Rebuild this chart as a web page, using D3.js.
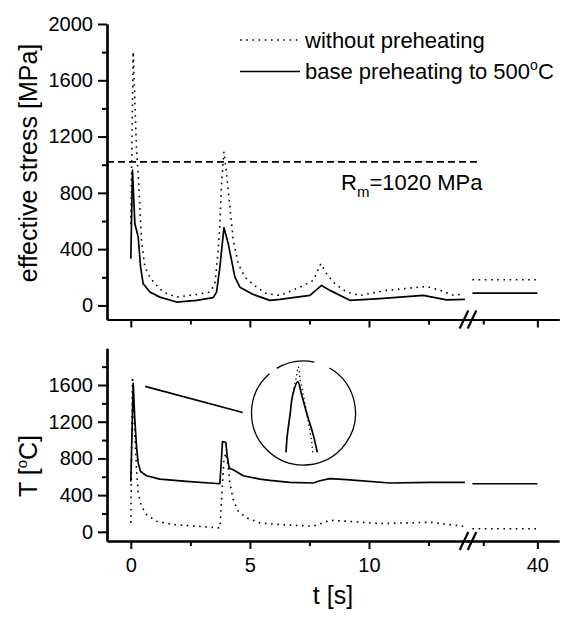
<!DOCTYPE html>
<html>
<head>
<script src="https://d3js.org/d3.v7.min.js"></script>
<style>
  body { margin: 0; background: #fff; }
  text { font-family: "Liberation Sans", Arial, sans-serif; fill: #000; }
</style>
</head>
<body>
<div id="viz"></div>
<script>
// ---- data ----
// effective stress, without preheating (dotted)
const tStressDot = [0, 0.1, 0.24, 0.31, 0.38, 0.45, 0.59, 0.8, 1.01, 1.36, 1.92, 2.76, 3.32, 3.53, 3.67, 3.74, 3.81, 3.91, 4.02, 4.16, 4.3, 4.51, 4.79, 5.28, 5.7, 6.26, 6.61, 7.1, 7.66, 7.98, 8.22, 8.57, 9.06, 9.62, 10.74, 12.42, 13.0, 13.56, 13.98];
const stressDot = [580, 1803, 1100, 937, 700, 463, 273, 201, 154, 95, 59, 78, 95, 154, 391, 581, 866, 1091, 937, 700, 463, 297, 201, 130, 83, 71, 95, 130, 178, 297, 225, 154, 95, 71, 107, 135, 107, 71, 83];
// effective stress, base preheating to 500 C (solid)
const tStressSolid = [0, 0.07, 0.17, 0.31, 0.41, 0.52, 0.8, 1.22, 1.92, 2.76, 3.46, 3.6, 3.74, 3.91, 4.09, 4.23, 4.37, 4.58, 5.14, 5.84, 6.26, 7.52, 8.01, 8.36, 9.2, 10.46, 12.28, 13.26, 14.03];
const stressSolid = [332, 961, 581, 486, 273, 154, 95, 59, 24, 36, 55, 95, 273, 553, 439, 320, 201, 130, 78, 36, 43, 71, 142, 107, 36, 48, 71, 40, 43];
// temperature, without preheating (dotted)
const tTempDot = [0, 0.07, 0.17, 0.24, 0.31, 0.45, 0.66, 1.08, 1.78, 2.76, 3.67, 3.74, 3.91, 3.99, 4.09, 4.16, 4.3, 4.51, 4.86, 5.42, 5.84, 6.26, 7.66, 8.36, 9.06, 10.46, 12.56, 13.96];
const tempDot = [97, 1690, 1038, 676, 423, 278, 188, 115, 79, 61, 43, 40, 785, 858, 712, 532, 351, 224, 152, 97, 87, 79, 61, 126, 115, 90, 104, 61];
// temperature, base preheating (solid)
const tTempSolid = [0, 0.1, 0.17, 0.24, 0.31, 0.41, 0.66, 1.22, 2.34, 3.74, 3.85, 3.99, 4.05, 4.13, 4.3, 4.72, 5.42, 5.84, 6.68, 7.66, 7.94, 8.36, 9.06, 10.88, 12.56, 14.03];
const tempSolid = [549, 1618, 1219, 929, 749, 658, 611, 575, 549, 524, 984, 973, 821, 695, 676, 611, 575, 560, 539, 532, 557, 579, 568, 532, 539, 539];
// after the axis break
const tLate = [34, 40];
const stressDotLate = [183, 183];
const stressSolidLate = [88, 88];
const tempDotLate = [33, 33];
const tempSolidLate = [524, 524];
// inset: zoom on the first temperature peak
const tInsetSolid = [0.01, 0.0165, 0.03, 0.0435, 0.0685, 0.0885, 0.1165, 0.1465, 0.1665];
const tempInsetSolid = [1291, 1375, 1472, 1570, 1635, 1570, 1472, 1375, 1291];
const tInsetDot = [0.045, 0.0635, 0.0715, 0.08, 0.1, 0.1215, 0.1385, 0.1435];
const tempInsetDot = [1580, 1667, 1708, 1651, 1554, 1440, 1343, 1291];
const Rm = 1020;

const yMajor = [0, 400, 800, 1200, 1600, 2000];
const yMinor = [200, 600, 1000, 1400, 1800];
const yMajorBottom = [0, 400, 800, 1200, 1600];
const xMajor = [0, 5, 10];
const xMinor = [2.5, 7.5, 12.5];
const x2Major = [40];
const x2Minor = [35];

// ---- layout ----
const width = 569, height = 617;
const font = '"Liberation Sans", Arial, sans-serif';
const svg = d3.select('#viz').append('svg')
    .attr('width', width).attr('height', height)
    .style('font-family', font);

const xs1 = d3.scaleLinear().domain([-1, 14.2]).range([107, 469]);
const xs2 = d3.scaleLinear().domain([33.5, 42]).range([467, 559]);
const yTop = d3.scaleLinear().domain([-100, 2000]).range([319.5, 24]);
const yBot = d3.scaleLinear().domain([-100, 2000]).range([541, 348.3]);
const xPos = t => t > 20 ? xs2(t) : xs1(t);

const pairs = (ts, vs) => ts.map((t, i) => [t, vs[i]]);

function drawSeries(y, ts, vs, dotted) {
    let line = d3.line().x(d => xPos(d[0])).y(d => y(d[1]));
    let p = svg.append('path')
        .datum(pairs(ts, vs))
        .attr('d', line)
        .attr('fill', 'none')
        .attr('stroke', '#000');
    if (dotted) p.attr('stroke-width', 1.6).attr('stroke-dasharray', '1.6 4.6');
    else p.attr('stroke-width', 1.7).attr('stroke-linejoin', 'round');
}

function drawAxes(y, yLabels, showX) {
    let gy = svg.append('g').attr('transform', `translate(${xs1.range()[0]},0)`);
    gy.call(d3.axisLeft(y).tickValues(yLabels).tickSize(9).tickSizeOuter(0).tickPadding(5)
        .tickFormat(d3.format('d')));
    gy.append('g').call(d3.axisLeft(y).tickValues(yMinor).tickSize(5).tickSizeOuter(0).tickFormat(''));
    let y0 = y.range()[0];
    let gx1 = svg.append('g').attr('transform', `translate(0,${y0})`);
    gx1.call(d3.axisBottom(xs1).tickValues(xMajor).tickSize(8).tickSizeOuter(0).tickPadding(9)
        .tickFormat(showX ? d3.format('d') : ''));
    gx1.append('g').call(d3.axisBottom(xs1).tickValues(xMinor).tickSize(5).tickSizeOuter(0).tickFormat(''));
    let gx2 = svg.append('g').attr('transform', `translate(0,${y0})`);
    gx2.call(d3.axisBottom(xs2).tickValues(x2Major).tickSize(8).tickSizeOuter(0).tickPadding(9)
        .tickFormat(showX ? d3.format('d') : ''));
    gx2.append('g').call(d3.axisBottom(xs2).tickValues(x2Minor).tickSize(5).tickSizeOuter(0).tickFormat(''));

    svg.selectAll('.domain').attr('stroke-width', 2.2);
    svg.selectAll('.tick line').attr('stroke-width', 2);
    svg.selectAll('.tick text').style('font-size', '20px').style('font-family', font).attr('fill', '#000');

    // axis break marks
    let bx = (xs1.range()[1] + xs2.range()[0]) / 2;
    [-4, 4].forEach(o => {
        svg.append('line')
            .attr('x1', bx + o - 4.3).attr('y1', y0 + 9)
            .attr('x2', bx + o + 4.3).attr('y2', y0 - 9)
            .attr('stroke', '#000').attr('stroke-width', 2.2);
    });
}

drawAxes(yTop, yMajor, false);
drawAxes(yBot, yMajorBottom, true);

// top panel: effective stress
svg.append('line')
    .attr('x1', xs1(-1)).attr('x2', xs2(34.7))
    .attr('y1', yTop(Rm)).attr('y2', yTop(Rm))
    .attr('stroke', '#000').attr('stroke-width', 1.6).attr('stroke-dasharray', '7 4');
drawSeries(yTop, tStressDot, stressDot, true);
drawSeries(yTop, tStressSolid, stressSolid, false);
drawSeries(yTop, tLate, stressDotLate, true);
drawSeries(yTop, tLate, stressSolidLate, false);

// bottom panel: temperature
drawSeries(yBot, tTempDot, tempDot, true);
drawSeries(yBot, tTempSolid, tempSolid, false);
drawSeries(yBot, tLate, tempDotLate, true);
drawSeries(yBot, tLate, tempSolidLate, false);

// inset
const cx = 303.5, cy = 413, r = 52;
const deg = Math.PI / 180;
[[-121, -78], [-60, 229]].forEach(a => {
    let p = d3.path();
    p.arc(cx, cy, r, a[0] * deg, a[1] * deg);
    svg.append('path').attr('d', p.toString())
        .attr('fill', 'none').attr('stroke', '#000').attr('stroke-width', 1.3);
});
const xi = d3.scaleLinear().domain([0, 0.2]).range([284, 324]);
const yi = d3.scaleLinear().domain([1280, 1720]).range([454.65, 364.2]);
const insetLine = d3.line().x(d => xi(d[0])).y(d => yi(d[1])).curve(d3.curveCatmullRom);
svg.append('path').datum(pairs(tInsetDot, tempInsetDot)).attr('d', insetLine)
    .attr('fill', 'none').attr('stroke', '#000').attr('stroke-width', 1.3).attr('stroke-dasharray', '1.3 3.2');
svg.append('path').datum(pairs(tInsetSolid, tempInsetSolid)).attr('d', insetLine)
    .attr('fill', 'none').attr('stroke', '#000').attr('stroke-width', 1.7);
// pointer from the peak to the inset
svg.append('line')
    .attr('x1', xs1(0.6)).attr('y1', yBot(1585))
    .attr('x2', xs1(4.7)).attr('y2', yBot(1300))
    .attr('stroke', '#000').attr('stroke-width', 1.7);

// legend
svg.append('line').attr('x1', 240).attr('x2', 300).attr('y1', 40).attr('y2', 40)
    .attr('stroke', '#000').attr('stroke-width', 1.6).attr('stroke-dasharray', '1.6 4.6');
svg.append('line').attr('x1', 240).attr('x2', 300).attr('y1', 71.5).attr('y2', 71.5)
    .attr('stroke', '#000').attr('stroke-width', 1.7);
svg.append('text').attr('x', 305).attr('y', 47.5).style('font-size', '22px')
    .text('without preheating');
let t2 = svg.append('text').attr('x', 305).attr('y', 78.5).style('font-size', '22px');
t2.append('tspan').text('base preheating to 500');
t2.append('tspan').attr('dy', -9).style('font-size', '14px').text('o');
t2.append('tspan').attr('dy', 9).text('C');

// Rm label
let rm = svg.append('text').attr('x', 341).attr('y', 190).style('font-size', '22px');
rm.append('tspan').text('R');
rm.append('tspan').attr('dy', 7).style('font-size', '15px').text('m');
rm.append('tspan').attr('dy', -7).text('=' + Rm + ' MPa');

// axis titles
svg.append('text')
    .attr('transform', 'translate(37,163) rotate(-90)')
    .attr('text-anchor', 'middle').style('font-size', '25px')
    .text('effective stress [MPa]');
let tt = svg.append('text')
    .attr('transform', 'translate(37,466) rotate(-90)')
    .attr('text-anchor', 'middle').style('font-size', '25px');
tt.append('tspan').text('T [');
tt.append('tspan').attr('dy', -10).style('font-size', '15px').text('o');
tt.append('tspan').attr('dy', 10).text('C]');
svg.append('text').attr('x', 333).attr('y', 604)
    .attr('text-anchor', 'middle').style('font-size', '25px')
    .text('t [s]');
</script>
</body>
</html>
